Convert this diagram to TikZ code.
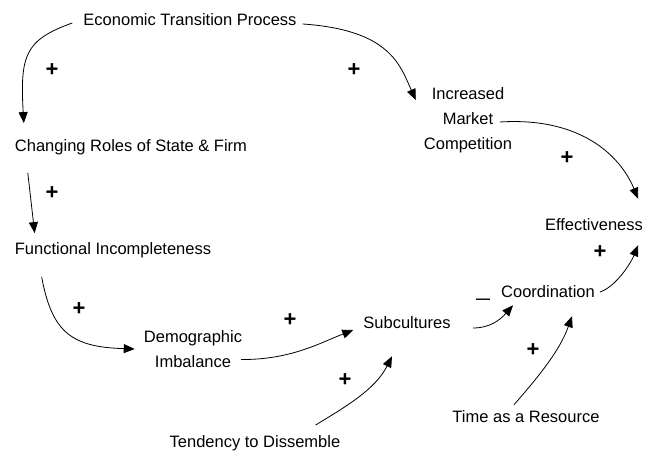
\documentclass[tikz,border=0pt]{standalone}
\usepackage{fontspec}
\setmainfont{Liberation Sans}
\usepackage{tikz}
\usetikzlibrary{positioning, arrows.meta}
\usetikzlibrary{calc}

\tikzset{
  concept/.style={inner sep=0pt, align=center, font=\fontsize{16.5}{25}\selectfont},
  link/.style={line width=0.8pt, -{Triangle[length=11pt,width=9pt]}},
  sign/.style={inner sep=0pt, font=\fontsize{22}{23}\selectfont\bfseries}
}

\begin{document}
\begin{tikzpicture}[x=1pt,y=1pt]
            \useasboundingbox (0,0) rectangle (646,455);
            \fill[white] (0,0) rectangle (646,455);
            % concepts
            \node[concept] (etp) at (190,435) {Economic Transition Process};
            \node[concept] (roles) at (131,308) {Changing Roles of State \& Firm};
            \node[concept] (funct) at (113,205) {Functional Incompleteness};
            \node[concept] (demo) at (193,106) {Demographic\\Imbalance};
            \node[concept] (subc) at (407,132) {Subcultures};
            \node[concept] (coord) at (548,163) {Coordination};
            \node[concept] (effect) at (594,230) {Effectiveness};
            \node[concept] (market) at (468,335) {Increased\\Market\\Competition};
            \node[concept] (time) at (526,38) {Time as a Resource};
            \node[concept] (tend) at (255,12) {Tendency to Dissemble};
            % links
            \draw[link] ([shift={(-11,-3)}]etp.west) .. controls (25,415) and (20,400) .. ([shift={(9,16)}]roles.north west);
            \draw[link] ([shift={(6,-4)}]etp.east) .. controls (390,425) and (400,390) .. ([shift={(-8,20)}]market.west);
            \draw[link] ([shift={(32,-2)}]market.center) .. controls (580,338) and (620,300) .. ([shift={(-5,20)}]effect.north east);
            \draw[link] ([shift={(13,-18)}]roles.south west) -- ([shift={(20,9)}]funct.north west);
            \draw[link] ([shift={(27,-19)}]funct.south west) .. controls (52,122) and (72,108) .. ([xshift=-9]demo.west);
            \draw[link] ([shift={(48,-10.5)}]demo.center) .. controls (290,95) and (320,112) .. ([shift={(-10,-7)}]subc.west);
            \draw[link] ([shift={(-25,10)}]tend.north east) .. controls (345,48) and (375,65) .. ([shift={(-15,-27)}]subc.south);
            \draw[link] ([shift={(22,-5)}]subc.east) .. controls (490,127) and (500,135) .. ([shift={(12,-7)}]coord.south west);
            \draw[link] ([shift={(-12,6)}]time.north) .. controls (540,80) and (560,105) .. ([shift={(24,-18)}]coord.south);
            \draw[link] ([xshift=5]coord.east) .. controls (615,168) and (630,190) .. ([shift={(-5,-14)}]effect.south east);
            % polarities
            \node[sign] (s1) at (52,385) {+};
            \node[sign] (s2) at (354,385) {+};
            \node[sign] (s3) at (52,262) {+};
            \node[sign] (s4) at (79,146) {+};
            \node[sign] (s5) at (290,135) {+};
            \node[sign] (s6) at (345,75) {+};
            \node[sign] (s7) at (567,297) {+};
            \node[sign] (s8) at (600,203) {+};
            \node[sign] (s9) at (533,105) {+};
            \node[inner sep=0pt, font=\fontsize{14}{15}\selectfont\bfseries] (s10) at (483,154) {—};
        \end{tikzpicture}
\end{document}
